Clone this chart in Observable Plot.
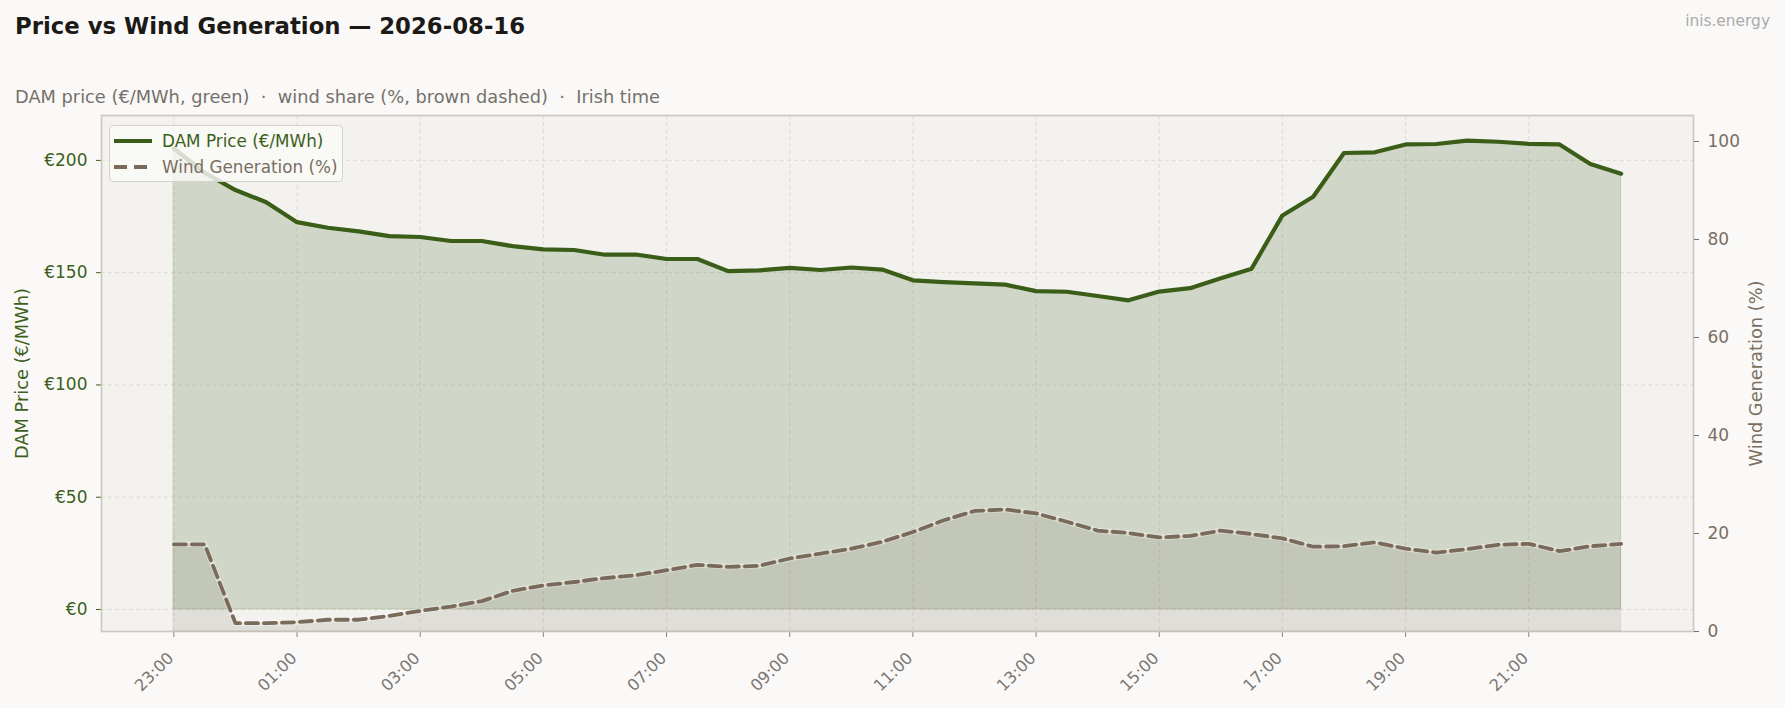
<!DOCTYPE html>
<html>
<head>
<meta charset="utf-8">
<script src="https://cdn.jsdelivr.net/npm/d3@7"></script>
<script src="https://cdn.jsdelivr.net/npm/@observablehq/plot@0.6"></script>
<style>
  html, body { margin: 0; padding: 0; background: #faf9f7; }
  #fig { position: relative; width: 1785px; height: 708px; overflow: hidden; font-family: "DejaVu Sans", sans-serif; }
  #header { position: relative; height: 108px; }
  #title { position: absolute; left: 15px; top: 15px; font-size: 22.8px; font-weight: bold; color: #1c1a17; line-height: 1; white-space: nowrap; }
  #subtitle { position: absolute; left: 15px; top: 88px; font-size: 17.8px; color: #75706b; line-height: 1; white-space: pre; }
  #brand { position: absolute; right: 15px; top: 14px; font-size: 15.4px; color: #ababab; line-height: 1; }
  #charts { position: relative; width: 1785px; height: 600px; }
  #charts svg { position: absolute; left: 0; top: 0; }
  #legend { position: absolute; left: 109px; top: 125px; width: 232px; height: 55px; border: 1.5px solid #d6d1cb; border-radius: 4px; background: rgba(250,250,248,0.82); }
  #legend .row { position: absolute; left: 0; height: 20px; display: flex; align-items: center; font-size: 16.8px; white-space: nowrap; }
  #legend svg { display: block; margin-left: 4px; margin-right: 10px; }
</style>
</head>
<body>
<div id="fig">
  <div id="header">
    <div id="title">Price vs Wind Generation — 2026-08-16</div>
    <div id="subtitle">DAM price (€/MWh, green)  ·  wind share (%, brown dashed)  ·  Irish time</div>
    <div id="brand">inis.energy</div>
  </div>
  <div id="charts"></div>
  <div id="legend">
    <div class="row" style="top:5px;color:#3d5f1c">
      <svg width="38" height="8"><line x1="0" y1="4" x2="38" y2="4" stroke="#3a5e17" stroke-width="4.2"/></svg>DAM Price (€/MWh)
    </div>
    <div class="row" style="top:31px;color:#7a6e62">
      <svg width="38" height="8"><line x1="0" y1="4" x2="38" y2="4" stroke="#7a6a5a" stroke-width="4" stroke-dasharray="13,7"/></svg>Wind Generation (%)
    </div>
  </div>
</div>
<script>
// ---- data ----
const times = ["23:00","23:30","00:00","00:30","01:00","01:30","02:00","02:30","03:00","03:30",
  "04:00","04:30","05:00","05:30","06:00","06:30","07:00","07:30","08:00","08:30",
  "09:00","09:30","10:00","10:30","11:00","11:30","12:00","12:30","13:00","13:30",
  "14:00","14:30","15:00","15:30","16:00","16:30","17:00","17:30","18:00","18:30",
  "19:00","19:30","20:00","20:30","21:00","21:30","22:00","22:30"];
const price = [205.3,194.5,186.8,181.4,172.5,170.0,168.4,166.3,165.9,164.1,
  164.1,161.8,160.4,160.1,158.0,158.1,156.1,156.1,150.7,151.0,
  152.1,151.2,152.3,151.4,146.6,145.8,145.2,144.7,141.8,141.5,
  139.6,137.7,141.6,143.1,147.5,151.8,175.5,183.8,203.3,203.6,
  207.1,207.3,208.8,208.3,207.4,207.1,198.4,194.1];
const wind = [17.8,17.8,1.7,1.7,1.9,2.4,2.4,3.2,4.2,5.1,
  6.2,8.3,9.4,10.1,10.9,11.5,12.5,13.6,13.2,13.4,
  14.9,15.9,16.9,18.3,20.3,22.7,24.6,24.9,24.1,22.4,
  20.6,20.1,19.2,19.5,20.6,19.9,19.0,17.3,17.4,18.2,
  16.9,16.1,16.8,17.7,17.9,16.4,17.4,17.9];
const xTickLabels = ["23:00","01:00","03:00","05:00","07:00","09:00","11:00","13:00","15:00","17:00","19:00","21:00"];
const priceTicks = [0, 50, 100, 150, 200];
const windTicks = [0, 20, 40, 60, 80, 100];
const priceDomain = [-9.8, 220];
const windDomain = [0, 105.3];

// ---- build ----
const toDate = s => { const [h, m] = s.split(":").map(Number); return new Date(Date.UTC(2026, 7, h >= 23 ? 15 : 16, h, m)); };
const rows = times.map((t, i) => ({t: toDate(t), price: price[i], wind: wind[i]}));
const t0 = rows[0].t, t1 = rows[rows.length - 1].t, span = t1 - t0;
const xDomain = [new Date(+t0 - 0.05 * span), new Date(+t1 + 0.05 * span)];
const xTicks = xTickLabels.map(toDate);
const fmt = d3.utcFormat("%H:%M");

const common = {
  width: 1785, height: 600,
  marginLeft: 101, marginRight: 92, marginTop: 7, marginBottom: 77,
  style: {fontFamily: "DejaVu Sans", background: "transparent", fontSize: "17px", overflow: "visible"}
};
const GREEN = "#3a5e17", BROWN = "#7a6a5a";

const pricePlot = Plot.plot({
  ...common,
  x: {type: "utc", domain: xDomain},
  y: {domain: priceDomain},
  marks: [
    Plot.frame({fill: "#f3f2ef", stroke: "none"}),
    Plot.gridY(priceTicks, {stroke: "#dcd8d2", strokeOpacity: 1, strokeDasharray: "4,3", strokeWidth: 0.9}),
    Plot.gridX(xTicks, {stroke: "#dcd8d2", strokeOpacity: 1, strokeDasharray: "4,3", strokeWidth: 0.9}),
    Plot.areaY(rows, {x: "t", y1: 0, y2: "price", fill: GREEN, fillOpacity: 0.18, stroke: GREEN, strokeOpacity: 0.18, strokeWidth: 1}),
    Plot.lineY(rows, {x: "t", y: "price", stroke: GREEN, strokeWidth: 4.2, strokeLinejoin: "round"}),
    Plot.axisY({ticks: priceTicks, tickFormat: d => "€" + d, color: "#3d5f1c", tickSize: 5, tickPadding: 9, fontSize: 17, label: null}),
    Plot.axisX({ticks: xTicks, tickFormat: null, text: null, stroke: "#8a847d", tickSize: 6, label: null}),
    Plot.axisX({ticks: xTicks, tickFormat: fmt, tickSize: 0, tickRotate: -45, textAnchor: "end", lineAnchor: "middle", tickPadding: 24, dx: -3, fill: "#7a7672", fontSize: 16.3, label: null}),
    Plot.text(["DAM Price (€/MWh)"], {frameAnchor: "left", dx: -79, rotate: -90, textAnchor: "middle", fill: "#3d5f1c", fontSize: 17.8}),
    Plot.frame({stroke: "#cbc6bf", strokeWidth: 1.6})
  ]
});

const windPlot = Plot.plot({
  ...common,
  x: {type: "utc", domain: xDomain, axis: null},
  y: {domain: windDomain, axis: null},
  marks: [
    Plot.areaY(rows, {x: "t", y1: 0, y2: "wind", fill: BROWN, fillOpacity: 0.15, stroke: BROWN, strokeOpacity: 0.12, strokeWidth: 1}),
    Plot.lineY(rows, {x: "t", y: "wind", stroke: "#ffffff", strokeOpacity: 0.35, strokeWidth: 5.5}),
    Plot.lineY(rows, {x: "t", y: "wind", stroke: BROWN, strokeWidth: 3.8, strokeDasharray: "12,6", strokeLinejoin: "round"}),
    Plot.axisY({anchor: "right", ticks: windTicks, color: "#7a6e62", tickSize: 5, tickPadding: 9, fontSize: 17, label: null}),
    Plot.text(["Wind Generation (%)"], {frameAnchor: "right", dx: 63, rotate: -90, textAnchor: "middle", fill: "#7a6e62", fontSize: 17.8})
  ]
});

const holder = document.getElementById("charts");
holder.appendChild(pricePlot);
holder.appendChild(windPlot);
</script>
</body>
</html>
